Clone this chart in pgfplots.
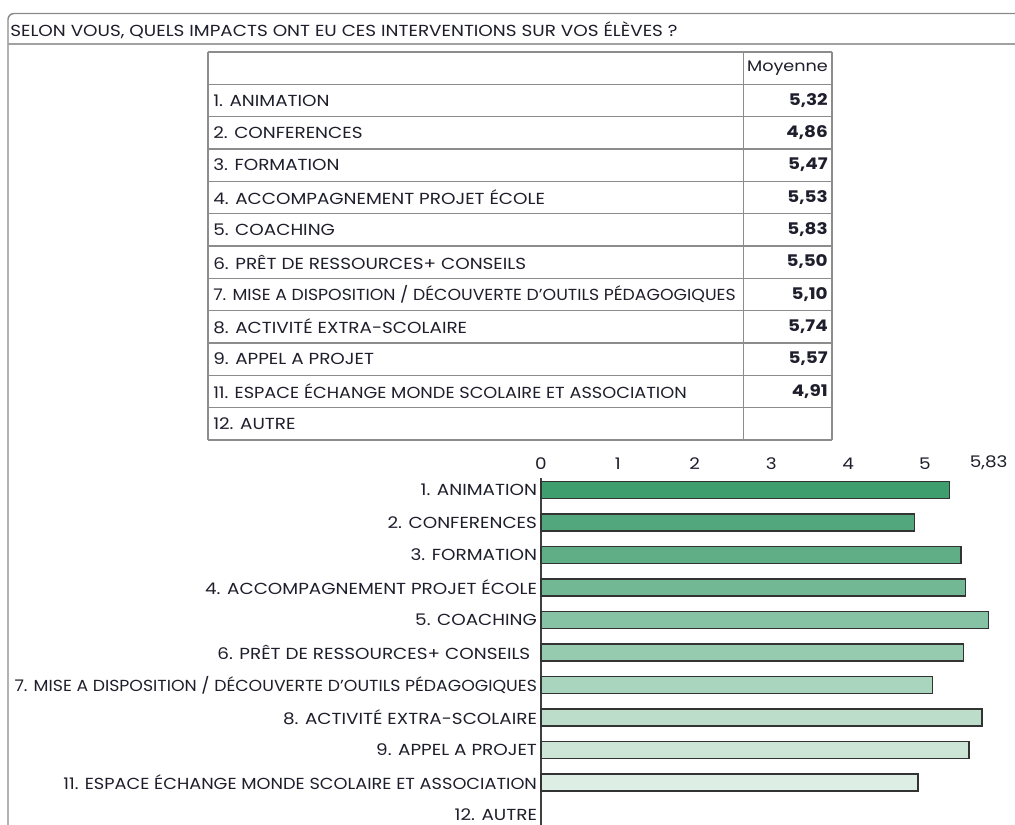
\documentclass[border=0pt]{standalone}
\usepackage{pgfplots}
\pgfplotsset{compat=1.18}
\usepackage{fontspec}
\setmainfont{Poppins}[FakeStretch=1.15]

\definecolor{txt}{HTML}{1E1E2C}
\definecolor{frame}{HTML}{8A8A8A}
\definecolor{grid}{HTML}{8C8C8C}
\definecolor{g1}{HTML}{3F9E6D}
\definecolor{g2}{HTML}{52A77D}
\definecolor{g3}{HTML}{5FAE86}
\definecolor{g4}{HTML}{72B894}
\definecolor{g5}{HTML}{86C3A4}
\definecolor{g6}{HTML}{97CBB0}
\definecolor{g7}{HTML}{A9D4BD}
\definecolor{g8}{HTML}{BBDDCA}
\definecolor{g9}{HTML}{CCE5D7}
\definecolor{g11}{HTML}{DDEEE4}

\newcommand{\tfont}{\fontsize{12}{14}\selectfont}
\newcommand{\labseven}{\scalebox{0.94}[1]{7. MISE A DISPOSITION / DÉCOUVERTE D’OUTILS PÉDAGOGIQUES}}
\newcommand{\labeleven}{\scalebox{0.965}[1]{11. ESPACE ÉCHANGE MONDE SCOLAIRE ET ASSOCIATION}}
% one table row: index, label, value
\newcommand{\trow}[3]{%
  \node[anchor=west,inner sep=0pt] at (213,{-68-#1*32.33}) {#2};
  \node[anchor=east,inner sep=0pt,font=\tfont\bfseries] at (828,{-68-#1*32.33}) {#3};}

\begin{document}
\begin{tikzpicture}[x=0.75pt,y=0.75pt,font=\tfont,text=txt]
\useasboundingbox (0,0) rectangle (1015,-825);

% frame and title
\draw[frame,line width=1.1pt,rounded corners=4.5pt] (8,-830) -- (8,-13.5) -- (1020,-13.5);
\draw[frame!80,line width=1.4pt] (8,-44) -- (1020,-44);
\node[anchor=west,inner sep=0pt] at (10,-30) {SELON VOUS, QUELS IMPACTS ONT EU CES INTERVENTIONS SUR VOS ÉLÈVES ?};

% table
\foreach \i in {0,...,12} {
  \draw[grid,line width=1.1pt] (208,{-52-\i*32.33}) -- (832,{-52-\i*32.33});
}
\draw[grid,line width=1.1pt] (208,-52) -- (208,-440);
\draw[grid,line width=1.1pt] (743.5,-52) -- (743.5,-440);
\draw[grid,line width=1.1pt] (832,-52) -- (832,-440);
\node[inner sep=0pt,font=\fontsize{11.5}{13}\selectfont] at (787.5,-68) {Moyenne};
\trow{1}{1. ANIMATION}{5,32}
\trow{2}{2. CONFERENCES}{4,86}
\trow{3}{3. FORMATION}{5,47}
\trow{4}{4. ACCOMPAGNEMENT PROJET ÉCOLE}{5,53}
\trow{5}{5. COACHING}{5,83}
\trow{6}{6. PRÊT DE RESSOURCES+ CONSEILS}{5,50}
\trow{7}{\labseven}{5,10}
\trow{8}{8. ACTIVITÉ EXTRA-SCOLAIRE}{5,74}
\trow{9}{9. APPEL A PROJET}{5,57}
\trow{10}{\labeleven}{4,91}
\trow{11}{12. AUTRE}{}

% bar chart
\coordinate (axpos) at (541,-478);
\begin{axis}[
  at={(axpos)}, anchor=north west,
  scale only axis,
  width=335.8pt, height=260.25pt,
  xbar, bar width=12.75pt, bar shift=0pt,
  xmin=0, xmax=5.83,
  ymin=0.63, ymax=11.31,
  y dir=reverse,
  axis x line*=top, axis y line*=left,
  x axis line style={draw=none},
  y axis line style={line width=1.1pt, draw=black!75},
  major tick length=0pt,
  xtick={0,1,2,3,4,5,5.83},
  xticklabels={0,1,2,3,4,5,{5,83}},
  ytick={1,...,11},
  yticklabels={
    1. ANIMATION,
    2. CONFERENCES,
    3. FORMATION,
    4. ACCOMPAGNEMENT PROJET ÉCOLE,
    5. COACHING,
    {6. PRÊT DE RESSOURCES+ CONSEILS\kern5pt},
    \labseven,
    8. ACTIVITÉ EXTRA-SCOLAIRE,
    9. APPEL A PROJET,
    \labeleven,
    12. AUTRE},
  tick label style={font=\tfont, text=txt},
  xticklabel style={yshift=3pt},
  yticklabel style={xshift=0.5pt},
  clip=false,
  every axis plot/.append style={draw=black!80, line width=1.1pt},
]
\addplot[fill=g1]  coordinates {(5.32,1)};
\addplot[fill=g2]  coordinates {(4.86,2)};
\addplot[fill=g3]  coordinates {(5.47,3)};
\addplot[fill=g4]  coordinates {(5.53,4)};
\addplot[fill=g5]  coordinates {(5.83,5)};
\addplot[fill=g6]  coordinates {(5.50,6)};
\addplot[fill=g7]  coordinates {(5.10,7)};
\addplot[fill=g8]  coordinates {(5.74,8)};
\addplot[fill=g9]  coordinates {(5.57,9)};
\addplot[fill=g11] coordinates {(4.91,10)};
\end{axis}
\end{tikzpicture}
\end{document}
